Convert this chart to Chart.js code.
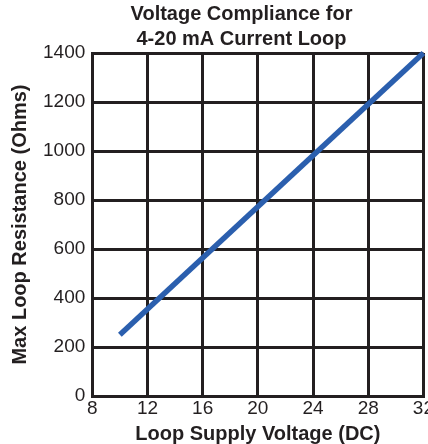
<!DOCTYPE html>
<html>
<head>
<meta charset="utf-8">
<script src="https://cdn.jsdelivr.net/npm/chart.js@4/dist/chart.umd.min.js"></script>
<style>
  html, body { margin: 0; padding: 0; background: #fff; overflow: hidden; }
  #wrap { width: 437px; height: 446px; position: relative; }
</style>
</head>
<body>
<div id="wrap"><canvas id="myChart"></canvas></div>
<script>
  // supply voltage (V) and max loop resistance (Ohms)
  const voltage = [10, 32];
  const resistance = [250, 1400];
  const xTicks = [8, 12, 16, 20, 24, 28, 32];
  const yTicks = [0, 200, 400, 600, 800, 1000, 1200, 1400];

  const ink = '#231f20';
  const tickFont = { family: '"Liberation Sans Narrow", Arial, "Liberation Sans"', size: 19, lineHeight: 1.05 };
  const boldFont = { family: 'Arial, "Liberation Sans"', size: 20, weight: 'bold' };

  const data = {
    datasets: [{
      label: 'Max Loop Resistance',
      data: voltage.map((v, i) => ({ x: v, y: resistance[i] })),
      borderColor: '#2b5fae',
      borderWidth: 5.5,
      pointRadius: 0,
      clip: false,
      borderCapStyle: 'butt'
    }]
  };

  // nudge the title a bit right, the original sits off-centre
  const titleShift = {
    id: 'titleShift',
    afterLayout(chart) {
      const t = chart.titleBlock;
      if (t) { t.left += 19; t.right += 19; }
    }
  };

  // config
  const config = {
    type: 'line',
    data,
    plugins: [titleShift],
    options: {
      responsive: true,
      maintainAspectRatio: false,
      animation: false,
      layout: { padding: { left: 8, right: 0, top: 2, bottom: 0 } },
      plugins: {
        legend: { display: false },
        tooltip: { enabled: false },
        title: {
          display: true,
          text: ['Voltage Compliance for', '4-20 mA Current Loop'],
          color: ink,
          font: { ...boldFont, lineHeight: 1.25 },
          padding: { top: 0, bottom: 1 }
        }
      },
      scales: {
        x: {
          type: 'linear',
          min: 8,
          max: 32,
          afterBuildTicks: axis => { axis.ticks = xTicks.map(v => ({ value: v })); },
          ticks: {
            color: ink,
            font: tickFont,
            padding: 3,
            callback: v => String(v)
          },
          grid: { color: ink, lineWidth: 3, drawTicks: false },
          border: { color: ink, width: 3 },
          title: {
            display: true,
            text: 'Loop Supply Voltage (DC)',
            color: ink,
            font: boldFont,
            padding: { top: 0, bottom: 0 }
          }
        },
        y: {
          min: 0,
          max: 1400,
          afterBuildTicks: axis => { axis.ticks = yTicks.map(v => ({ value: v })); },
          ticks: {
            color: ink,
            font: tickFont,
            padding: 7,
            callback: v => String(v)
          },
          grid: { color: ink, lineWidth: 3, drawTicks: false },
          border: { color: ink, width: 3 },
          title: {
            display: true,
            text: 'Max Loop Resistance (Ohms)',
            color: ink,
            font: boldFont,
            padding: { top: 0, bottom: 4 }
          }
        }
      }
    }
  };

  // render init block
  const myChart = new Chart(
    document.getElementById('myChart'),
    config
  );
</script>
</body>
</html>
